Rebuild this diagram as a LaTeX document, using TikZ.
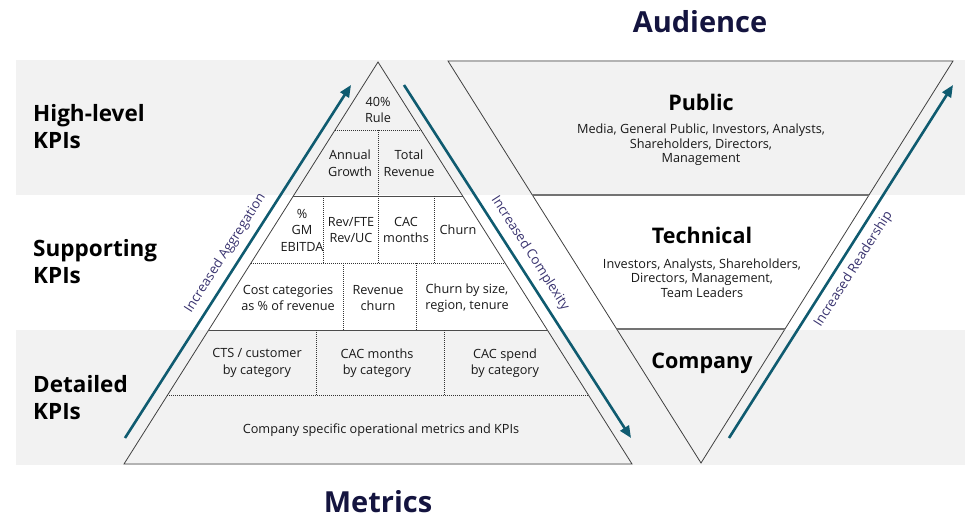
\documentclass[tikz,border=0pt]{standalone}
\usepackage{fontspec}
\setmainfont{Open Sans}
\usetikzlibrary{arrows.meta,calc,positioning}
\definecolor{bandgray}{HTML}{F2F2F2}
\definecolor{inknavy}{HTML}{14143F}
\definecolor{trendteal}{HTML}{0F5B70}
\definecolor{trendtext}{HTML}{3A3470}
\tikzset{
  % bands and outlines
  band/.style={fill=bandgray,draw=none},
  tri/.style={draw=black!75,line width=0.8pt,line join=miter},
  rowline/.style={draw=black!70,line width=0.8pt},
  dotline/.style={draw=black!80,line width=0.6pt,dash pattern=on 1pt off 1pt},
  audline/.style={draw=black!55,line width=1.2pt},
  % texts
  cell/.style={align=center,font=\fontsize{12.7}{16.5}\selectfont,text=black!90,inner sep=0pt},
  aud/.style={align=center,font=\fontsize{12.7}{14.5}\selectfont,text=black!90,inner sep=0pt},
  audhead/.style={font=\fontsize{21.5}{24}\selectfont\bfseries,inner sep=0pt},
  lvl/.style={align=left,anchor=west,font=\fontsize{22.5}{27}\selectfont\bfseries,inner sep=0pt},
  axis/.style={font=\fontsize{29}{32}\selectfont\bfseries,text=inknavy,inner sep=0pt},
  % trend arrows
  trend/.style={draw=trendteal,line width=2.6pt,-{Triangle[length=12pt,width=10pt]}},
  trendlbl/.style={sloped,midway,font=\fontsize{13.3}{15}\selectfont,text=trendtext,inner sep=7pt},
}
\begin{document}
\begin{tikzpicture}[x=1pt,y=-1pt]
  \useasboundingbox (0,0) rectangle (965,518);
  \fill[band] (16,60) rectangle (965,195);
  \fill[band] (16,330) rectangle (965,465);
  % metrics pyramid
  \coordinate (top) at (378,62);
  \coordinate (bl) at (124,464);
  \coordinate (br) at (632,464);
  \draw[tri] (top) -- (bl) -- (br) -- cycle;
  \foreach \t in {0.3333,0.6667}
    \draw[rowline] ($(top)!\t!(bl)$) -- ($(top)!\t!(br)$);
  \foreach \t in {0.17,0.5,0.83}
    \draw[dotline] ($(top)!\t!(bl)$) -- ($(top)!\t!(br)$);
  \foreach \x/\ya/\yb in {378/130/196, 323/196/263, 378/196/263, 434/196/263,
                          343/263/330, 416/263/330, 316/330/396, 444/330/396}
    \draw[dotline] (\x,\ya) -- (\x,\yb);
  \node[cell] (rule) at (378,110) {40\%\\Rule};
  \node[cell] (growth) at (350,163) {Annual\\Growth};
  \node[cell] (totrev) at (409,163) {Total\\Revenue};
  \node[cell] (gm) at (302,230) {\%\\GM\\EBITDA};
  \node[cell] (revfte) at (351,230) {Rev/FTE\\Rev/UC};
  \node[cell] (cacm) at (406,230) {CAC\\months};
  \node[cell] (churn) at (458,230) {Churn};
  \node[cell] (costcat) at (288,298) {Cost categories\\as \% of revenue};
  \node[cell] (revchurn) at (378,298) {Revenue\\churn};
  \node[cell] (churnsize) at (467,298) {Churn by size,\\region, tenure};
  \node[cell] (cts) at (257,363) {CTS / customer\\by category};
  \node[cell] (cacmcat) at (377,363) {CAC months\\by category};
  \node[cell] (cacspend) at (505,363) {CAC spend\\by category};
  \node[cell] (opmetrics) at (381,430) {Company specific operational metrics and KPIs};
  % audience funnel
  \coordinate (ftl) at (448,61);
  \coordinate (ftr) at (953,61);
  \coordinate (fbot) at (701,463);
  \draw[tri] (ftl) -- (ftr) -- (fbot) -- cycle;
  \foreach \t in {0.3333,0.6667}
    \draw[audline] ($(ftl)!\t!(fbot)$) -- ($(ftr)!\t!(fbot)$);
  \node[audhead] (public) at (701,102) {Public};
  \node[aud] (publicwho) at (701,145) {Media, General Public, Investors, Analysts,\\Shareholders, Directors,\\Management};
  \node[audhead] (technical) at (702,235) {Technical};
  \node[aud] (techwho) at (702,278) {Investors, Analysts, Shareholders,\\Directors, Management,\\Team Leaders};
  \node[audhead] (company) at (702,363) {Company};
  % levels and titles
  \node[lvl] (highlvl) at (33,127) {High-level\\KPIs};
  \node[lvl] (support) at (33,262) {Supporting\\KPIs};
  \node[lvl] (detail) at (33,398) {Detailed\\KPIs};
  \node[axis] (audience) at (700,22) {Audience};
  \node[axis] (metrics) at (378,502) {Metrics};
  % trends
  \coordinate (aggS) at (125,438);
  \coordinate (aggE) at (351,85);
  \draw[trend] (aggS) -- node[trendlbl,above] {Increased Aggregation} (aggE);
  \coordinate (cpxS) at (404,85);
  \coordinate (cpxE) at (631,438);
  \draw[trend] (cpxS) -- node[trendlbl,above] {Increased Complexity} (cpxE);
  \coordinate (rdS) at (729,438);
  \coordinate (rdE) at (953,85);
  \draw[trend] (rdS) -- node[trendlbl,below] {Increased Readership} (rdE);
\end{tikzpicture}
\end{document}
